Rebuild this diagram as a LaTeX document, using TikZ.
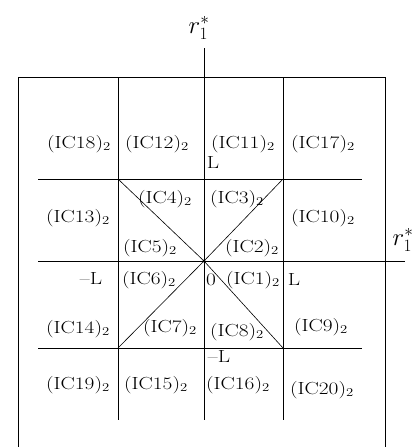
\documentclass[tikz,border=0pt]{standalone}
\usepackage{graphicx}
\tikzset{
  gridline/.style={line width=0.6pt, black},
  boxline/.style={line width=0.8pt, black},
  lab/.style={inner sep=0pt, font=\fontsize{17.5}{19}\selectfont},
  axlab/.style={inner sep=0pt, font=\fontsize{23}{25}\selectfont},
}
\newcommand{\ic}[1]{\scalebox{1.22}[1]{(IC#1)$_2$}}
\newcommand{\tx}[1]{\scalebox{1.22}[1]{#1}}
\begin{document}
\begin{tikzpicture}[x=1pt,y=-1pt]
\useasboundingbox (0,0) rectangle (413,447);
% grid coordinates
\coordinate (TL) at (118,179);
\coordinate (TR) at (283,179);
\coordinate (BL) at (118,348);
\coordinate (BR) at (283,348);
\coordinate (O) at (204,261);
% outer box (open at bottom)
\draw[boxline] (18,447) -- (18,77) -- (385,77) -- (385,447);
% vertical lines
\draw[gridline] (118,77) -- (118,420);
\draw[gridline] (283,77) -- (283,420);
\draw[gridline] (204,48) coordinate (vtop) -- (204,420);
% horizontal lines
\draw[gridline] (38,179) -- (362,179);
\draw[gridline] (38,348) -- (362,348);
\draw[gridline] (38,261) -- (405,261) coordinate (hright);
% diagonals
\draw[gridline] (TL) -- (O) -- (BR);
\draw[gridline] (TR) -- (O) -- (BL);
\fill (O) circle (1.6);
% axis labels
\node[axlab] (ry) at (199,28) {$r^{*}_{1}$};
\node[axlab] (rx) at (403,240) {$r^{*}_{1}$};
% labels
\node[lab] (n18) at (79,144) {\ic{18}};
\node[lab] (n12) at (157,144) {\ic{12}};
\node[lab] (n11) at (243,144) {\ic{11}};
\node[lab] (n17) at (323,144) {\ic{17}};
\node[lab] (Ltop) at (213,163) {\tx{L}};
\node[lab] (n4) at (165,199) {\ic{4}};
\node[lab] (n3) at (237,199) {\ic{3}};
\node[lab] (n13) at (78,218) {\ic{13}};
\node[lab] (n10) at (323,218) {\ic{10}};
\node[lab] (n5) at (150,248) {\ic{5}};
\node[lab] (n2) at (252,248) {\ic{2}};
\node[lab] (mL) at (91,279) {\tx{--L}};
\node[lab] (n6) at (149,280) {\ic{6}};
\node[lab] (zero) at (211,280) {\tx{0}};
\node[lab] (n1) at (253,280) {\ic{1}};
\node[lab] (Lr) at (294,280) {\tx{L}};
\node[lab] (n14) at (78,329) {\ic{14}};
\node[lab] (n7) at (170,328) {\ic{7}};
\node[lab] (n8) at (237,332) {\ic{8}};
\node[lab] (n9) at (321,327) {\ic{9}};
\node[lab] (mLb) at (219,357) {\tx{--L}};
\node[lab] (n19) at (78,385) {\ic{19}};
\node[lab] (n15) at (156,385) {\ic{15}};
\node[lab] (n16) at (238,385) {\ic{16}};
\node[lab] (n20) at (322,390) {\ic{20}};
\end{tikzpicture}
\end{document}
